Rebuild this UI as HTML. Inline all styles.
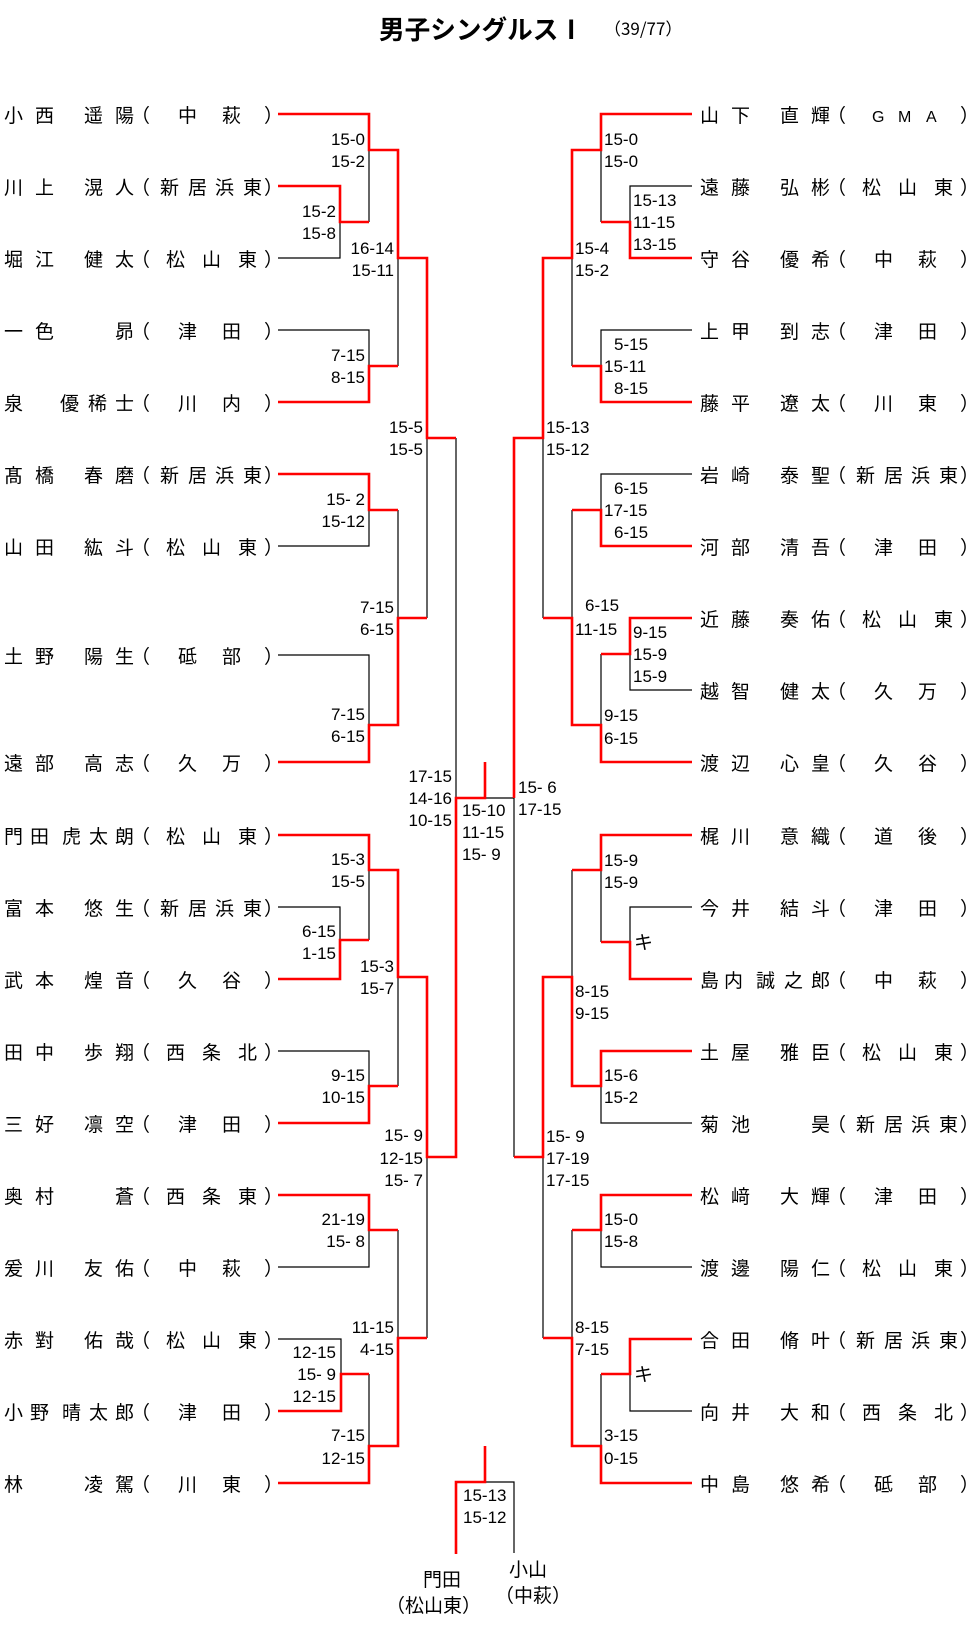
<!DOCTYPE html>
<html><head><meta charset="utf-8">
<style>
html,body{margin:0;padding:0;background:#fff;}
svg{display:block;}
.n{font-family:"Noto Sans CJK JP","Liberation Sans",sans-serif;font-size:19px;fill:#000;}
.s{font-family:"Liberation Sans",sans-serif;font-size:17px;fill:#000;}
.sr{font-family:"Liberation Sans",sans-serif;font-size:17px;fill:#000;text-anchor:end;}
.b{fill:none;stroke:#000;stroke-width:1.2;}
.r{fill:none;stroke:#ff0000;stroke-width:2.6;}
</style></head><body>
<svg width="971" height="1651" viewBox="0 0 971 1651" xmlns="http://www.w3.org/2000/svg">
<text x="379" y="39" font-family="Noto Sans CJK JP, sans-serif" font-size="26" font-weight="bold" textLength="205" lengthAdjust="spacingAndGlyphs">男子シングルスⅠ</text>
<text x="604" y="35" font-family="Noto Sans CJK JP, sans-serif" font-size="17">（39/77）</text>

<!-- black lines -->
<path class="b" d="M369 150V222 M278 258H340V222 M398 258V366 M278 330H369V366 M427 438V618 M278 546H369V510 M398 510V618 M278 655H369V725 M456 438V798 M369 870V940 M278 907H340V940 M398 977V1086 M278 1051H369V1086 M427 1157V1338 M278 1267H369V1230 M398 1230V1338 M278 1339H341V1374 M369 1374V1446 M485 798H514 M485 1482H514V1553"/>
<path class="b" d="M601 150V222 M692 186H630V222 M572 258V366 M692 330H601V366 M543 438V618 M692 474H601V510 M572 510V618 M692 690H630V654 M601 654V725 M514 798V1157 M601 870V942 M692 907H630V942 M572 870V977 M692 1123H601V1086 M543 1157V1338 M692 1267H601V1230 M572 1230V1338 M692 1411H630V1374 M601 1374V1446"/>
<!-- red lines -->
<path class="r" d="M278 114H369V150H398V258H427V438H456 M278 186H340V222H369 M278 402H369V366H398 M278 474H369V510H398 M278 762H369V725H398V618H427 M278 835H369V870H398V977H427V1157H456V798H485V762 M278 979H340V940H369 M278 1123H369V1086H398 M278 1195H369V1230H398 M278 1411H341V1374H369 M278 1483H369V1446H398V1338H427 M456 1554V1482H485V1446"/>
<path class="r" d="M692 114H601V150H572V258H543V438H514V798 M692 258H630V222H601 M692 402H601V366H572 M692 546H601V510H572 M692 618H630V654H601 M692 762H601V725H572V618H543 M692 835H601V870H572 M692 979H630V942H601 M692 1051H601V1086H572V977H543V1157H514 M692 1195H601V1230H572 M692 1339H630V1374H601 M692 1483H601V1446H572V1338H543"/>

<!-- left names -->
<g class="n">
<text y="122" x="4 35 84 115">小西遥陽</text><text y="122" x="131 178 222 264">（中萩）</text>
<text y="194" x="4 35 84 115">川上滉人</text><text y="194" x="131 160 188 215 243 264">（新居浜東）</text>
<text y="266" x="4 35 84 115">堀江健太</text><text y="266" x="131 166 202 238 264">（松山東）</text>
<text y="338" x="4 35 115">一色昴</text><text y="338" x="131 178 222 264">（津田）</text>
<text y="410" x="4 60 88 115">泉優稀士</text><text y="410" x="131 178 222 264">（川内）</text>
<text y="482" x="4 35 84 115">髙橋春磨</text><text y="482" x="131 160 188 215 243 264">（新居浜東）</text>
<text y="554" x="4 35 84 115">山田紘斗</text><text y="554" x="131 166 202 238 264">（松山東）</text>
<text y="663" x="4 35 84 115">土野陽生</text><text y="663" x="131 178 222 264">（砥部）</text>
<text y="770" x="4 35 84 115">遠部高志</text><text y="770" x="131 178 222 264">（久万）</text>
<text y="843" x="4 30 62 89 115">門田虎太朗</text><text y="843" x="131 166 202 238 264">（松山東）</text>
<text y="915" x="4 35 84 115">富本悠生</text><text y="915" x="131 160 188 215 243 264">（新居浜東）</text>
<text y="987" x="4 35 84 115">武本煌音</text><text y="987" x="131 178 222 264">（久谷）</text>
<text y="1059" x="4 35 84 115">田中歩翔</text><text y="1059" x="131 166 202 238 264">（西条北）</text>
<text y="1131" x="4 35 84 115">三好凛空</text><text y="1131" x="131 178 222 264">（津田）</text>
<text y="1203" x="4 35 115">奥村蒼</text><text y="1203" x="131 166 202 238 264">（西条東）</text>
<text y="1275" x="4 35 84 115">爰川友佑</text><text y="1275" x="131 178 222 264">（中萩）</text>
<text y="1347" x="4 35 84 115">赤對佑哉</text><text y="1347" x="131 166 202 238 264">（松山東）</text>
<text y="1419" x="4 30 62 89 115">小野晴太郎</text><text y="1419" x="131 178 222 264">（津田）</text>
<text y="1491" x="4 84 115">林凌駕</text><text y="1491" x="131 178 222 264">（川東）</text>
</g>
<!-- right names -->
<g class="n">
<text y="122" x="700 731 780 811">山下直輝</text><text y="122" x="827 960">（）</text><text y="122" font-family="Liberation Sans,sans-serif" font-size="16" x="872 898 926">GMA</text>
<text y="194" x="700 731 780 811">遠藤弘彬</text><text y="194" x="827 862 898 934 960">（松山東）</text>
<text y="266" x="700 731 780 811">守谷優希</text><text y="266" x="827 874 918 960">（中萩）</text>
<text y="338" x="700 731 780 811">上甲到志</text><text y="338" x="827 874 918 960">（津田）</text>
<text y="410" x="700 731 780 811">藤平遼太</text><text y="410" x="827 874 918 960">（川東）</text>
<text y="482" x="700 731 780 811">岩崎泰聖</text><text y="482" x="827 856 884 911 939 960">（新居浜東）</text>
<text y="554" x="700 731 780 811">河部清吾</text><text y="554" x="827 874 918 960">（津田）</text>
<text y="626" x="700 731 780 811">近藤奏佑</text><text y="626" x="827 862 898 934 960">（松山東）</text>
<text y="698" x="700 731 780 811">越智健太</text><text y="698" x="827 874 918 960">（久万）</text>
<text y="770" x="700 731 780 811">渡辺心皇</text><text y="770" x="827 874 918 960">（久谷）</text>
<text y="843" x="700 731 780 811">梶川意織</text><text y="843" x="827 874 918 960">（道後）</text>
<text y="915" x="700 731 780 811">今井結斗</text><text y="915" x="827 874 918 960">（津田）</text>
<text y="987" x="700 724 756 784 811">島内誠之郎</text><text y="987" x="827 874 918 960">（中萩）</text>
<text y="1059" x="700 731 780 811">土屋雅臣</text><text y="1059" x="827 862 898 934 960">（松山東）</text>
<text y="1131" x="700 731 811">菊池昊</text><text y="1131" x="827 856 884 911 939 960">（新居浜東）</text>
<text y="1203" x="700 731 780 811">松﨑大輝</text><text y="1203" x="827 874 918 960">（津田）</text>
<text y="1275" x="700 731 780 811">渡邊陽仁</text><text y="1275" x="827 862 898 934 960">（松山東）</text>
<text y="1347" x="700 731 780 811">合田脩叶</text><text y="1347" x="827 856 884 911 939 960">（新居浜東）</text>
<text y="1419" x="700 731 780 811">向井大和</text><text y="1419" x="827 862 898 934 960">（西条北）</text>
<text y="1491" x="700 731 780 811">中島悠希</text><text y="1491" x="827 874 918 960">（砥部）</text>
</g>

<!-- left scores -->
<g class="sr">
<text x="365" y="145">15-0</text><text x="365" y="167">15-2</text>
<text x="336" y="217">15-2</text><text x="336" y="239">15-8</text>
<text x="394" y="254">16-14</text><text x="394" y="276">15-11</text>
<text x="365" y="361">7-15</text><text x="365" y="383">8-15</text>
<text x="423" y="433">15-5</text><text x="423" y="455">15-5</text>
<text x="365" y="505">15- 2</text><text x="365" y="527">15-12</text>
<text x="394" y="613">7-15</text><text x="394" y="635">6-15</text>
<text x="365" y="720">7-15</text><text x="365" y="742">6-15</text>
<text x="452" y="782">17-15</text><text x="452" y="804">14-16</text><text x="452" y="826">10-15</text>
<text x="365" y="865">15-3</text><text x="365" y="887">15-5</text>
<text x="336" y="937">6-15</text><text x="336" y="959">1-15</text>
<text x="394" y="972">15-3</text><text x="394" y="994">15-7</text>
<text x="365" y="1081">9-15</text><text x="365" y="1103">10-15</text>
<text x="423" y="1141">15- 9</text><text x="423" y="1164">12-15</text><text x="423" y="1186">15- 7</text>
<text x="365" y="1225">21-19</text><text x="365" y="1247">15- 8</text>
<text x="394" y="1333">11-15</text><text x="394" y="1355">4-15</text>
<text x="336" y="1358">12-15</text><text x="336" y="1380">15- 9</text><text x="336" y="1402">12-15</text>
<text x="365" y="1441">7-15</text><text x="365" y="1464">12-15</text>
</g>
<!-- center / right scores -->
<g class="s">
<text x="462" y="816">15-10</text><text x="462" y="838">11-15</text><text x="462" y="860">15- 9</text>
<text x="463" y="1501">15-13</text><text x="463" y="1523">15-12</text>
<text x="604" y="145">15-0</text><text x="604" y="167">15-0</text>
<text x="633" y="206">15-13</text><text x="633" y="228">11-15</text><text x="633" y="250">13-15</text>
<text x="575" y="254">15-4</text><text x="575" y="276">15-2</text>
<text x="614" y="350">5-15</text><text x="604" y="372">15-11</text><text x="614" y="394">8-15</text>
<text x="546" y="433">15-13</text><text x="546" y="455">15-12</text>
<text x="614" y="494">6-15</text><text x="604" y="516">17-15</text><text x="614" y="538">6-15</text>
<text x="585" y="611">6-15</text><text x="575" y="635">11-15</text>
<text x="633" y="638">9-15</text><text x="633" y="660">15-9</text><text x="633" y="682">15-9</text>
<text x="604" y="721">9-15</text><text x="604" y="744">6-15</text>
<text x="518" y="793">15- 6</text><text x="518" y="815">17-15</text>
<text x="604" y="866">15-9</text><text x="604" y="888">15-9</text>
<text x="575" y="997">8-15</text><text x="575" y="1019">9-15</text>
<text x="604" y="1081">15-6</text><text x="604" y="1103">15-2</text>
<text x="546" y="1142">15- 9</text><text x="546" y="1164">17-19</text><text x="546" y="1186">17-15</text>
<text x="604" y="1225">15-0</text><text x="604" y="1247">15-8</text>
<text x="575" y="1333">8-15</text><text x="575" y="1355">7-15</text>
<text x="604" y="1441">3-15</text><text x="604" y="1464">0-15</text>
</g>
<g class="n">
<text x="634" y="949">キ</text>
<text x="634" y="1381">キ</text>
<text x="423" y="1586">門田</text>
<text x="386" y="1612">（松山東）</text>
<text x="509" y="1576">小山</text>
<text x="495" y="1602">（中萩）</text>
</g>
</svg>
</body></html>
